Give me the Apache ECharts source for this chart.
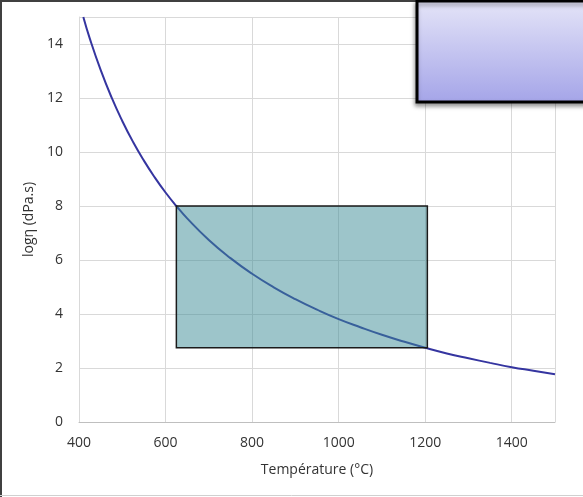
<!DOCTYPE html>
<html>
<head>
<meta charset="utf-8">
<script src="https://cdn.jsdelivr.net/npm/echarts@6/dist/echarts.min.js"></script>
<style>
html,body{margin:0;padding:0;background:#fff;}
#chart{width:583px;height:497px;}
</style>
</head>
<body>
<div id="chart"></div>
<script>
// Temperature (°C) and log viscosity (dPa.s)
var temperatures = [410, 425, 450, 475, 500, 525, 550, 575, 600, 625, 650, 700, 750, 800, 850, 900, 950, 1000, 1050, 1100, 1150, 1200, 1250, 1300, 1350, 1400, 1450, 1500];
var logViscosity = [15.0, 14.2, 13.04, 12.03, 11.15, 10.37, 9.68, 9.06, 8.5, 8.0, 7.54, 6.74, 6.07, 5.49, 4.99, 4.55, 4.16, 3.81, 3.51, 3.23, 2.98, 2.75, 2.54, 2.36, 2.19, 2.03, 1.9, 1.77];
// Working range rectangle: [Tmin, Tmax, logMin, logMax]
var workingRange = [625, 1205, 2.75, 8.0];
var xTicks = [400, 600, 800, 1000, 1200, 1400];
var yTicks = [0, 2, 4, 6, 8, 10, 12, 14];

var lineData = temperatures.map(function (t, i) { return [t, logViscosity[i]]; });

var chart = echarts.init(document.getElementById('chart'), null, {renderer: 'canvas'});
var font = '"Open Sans", sans-serif';
chart.setOption({
  animation: false,
  backgroundColor: '#ffffff',
  grid: {left: 79, right: 28, top: 17, bottom: 75, containLabel: false},
  xAxis: {
    type: 'value', min: 400, max: 1500, interval: 200,
    name: 'Température (°C)', nameLocation: 'middle', nameGap: 41,
    nameTextStyle: {fontFamily: font, fontSize: 14, color: '#333333'},
    axisLine: {show: true, lineStyle: {color: '#bfbfbf', width: 1}},
    axisTick: {show: false},
    axisLabel: {fontFamily: font, fontSize: 14, color: '#333333', margin: 14, showMaxLabel: false,
      formatter: function (v) { return xTicks.indexOf(v) >= 0 ? String(v) : ''; }},
    splitLine: {show: true, lineStyle: {color: '#d9d9d9', width: 1}}
  },
  yAxis: {
    type: 'value', min: 0, max: 15, interval: 2,
    name: 'logη (dPa.s)', nameLocation: 'middle', nameGap: 37,
    nameTextStyle: {fontFamily: font, fontSize: 14, color: '#333333'},
    axisLine: {show: true, lineStyle: {color: '#d9d9d9', width: 1}},
    axisTick: {show: false},
    axisLabel: {fontFamily: font, fontSize: 14, color: '#333333', margin: 16, showMaxLabel: false,
      formatter: function (v) { return yTicks.indexOf(v) >= 0 ? String(v) : ''; }},
    splitLine: {show: true, lineStyle: {color: '#d9d9d9', width: 1}}
  },
  series: [
    {
      type: 'line', data: lineData, smooth: true, showSymbol: false, z: 2,
      lineStyle: {color: '#3535a0', width: 2}
    },
    {
      type: 'custom', z: 3,
      data: [workingRange],
      renderItem: function (params, api) {
        var p1 = api.coord([api.value(0), api.value(3)]);
        var p2 = api.coord([api.value(1), api.value(2)]);
        return {
          type: 'rect',
          shape: {x: p1[0], y: p1[1], width: p2[0] - p1[0], height: p2[1] - p1[1]},
          style: {fill: 'rgba(60,140,150,0.5)', stroke: '#1a1a1a', lineWidth: 1.5}
        };
      }
    }
  ],
  graphic: [
    {type: 'line', shape: {x1: 1, y1: 0, x2: 1, y2: 497}, style: {stroke: '#404040', lineWidth: 2}, z: 100},
    {type: 'line', shape: {x1: 0, y1: 1, x2: 583, y2: 1}, style: {stroke: '#404040', lineWidth: 2}, z: 100},
    {type: 'line', shape: {x1: 0, y1: 495.5, x2: 583, y2: 495.5}, style: {stroke: '#d0d0d0', lineWidth: 1}, z: 100},
    {
      type: 'rect', z: 101,
      shape: {x: 417, y: 1, width: 200, height: 101},
      style: {
        fill: new echarts.graphic.LinearGradient(0, 0, 0, 1, [
          {offset: 0, color: '#e5e5f8'},
          {offset: 1, color: '#a4a4e8'}
        ]),
        stroke: '#000000', lineWidth: 3,
        shadowBlur: 4, shadowOffsetX: -1, shadowOffsetY: 3, shadowColor: 'rgba(0,0,0,0.35)'
      }
    }
  ]
});
</script>
</body>
</html>
